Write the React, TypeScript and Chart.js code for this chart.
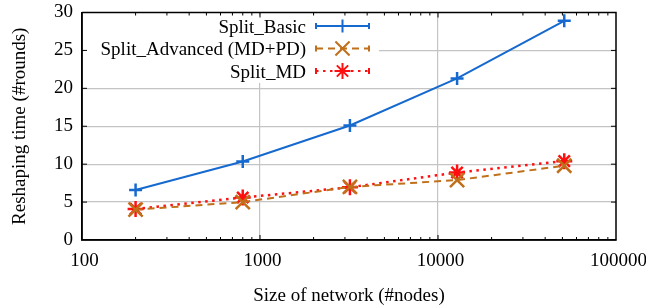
import React, { useEffect, useRef } from "react";
import { Chart, registerables } from "chart.js";

Chart.register(...registerables);

const sizes = [200, 800, 3200, 12800, 51200];
const splitBasic = [6.6, 10.35, 15.1, 21.3, 28.9];
const splitAdvanced = [4.0, 5.0, 7.0, 7.9, 9.8];
const splitMD = [4.1, 5.6, 6.95, 8.9, 10.4];
const xTicks = [100, 1000, 10000, 100000];
const seriesLabels = ["Split_Basic", "Split_Advanced (MD+PD)", "Split_MD"];

const FONT = "'Liberation Serif', 'Times New Roman', serif";

const drawMarker = (ctx: CanvasRenderingContext2D, style: string, x: number, y: number, r: number) => {
  ctx.beginPath();
  if (style === "cross" || style === "star") {
    ctx.moveTo(x - r, y);
    ctx.lineTo(x + r, y);
    ctx.moveTo(x, y - r);
    ctx.lineTo(x, y + r);
  }
  if (style === "crossRot" || style === "star") {
    const d = r * Math.SQRT1_2;
    ctx.moveTo(x - d, y - d);
    ctx.lineTo(x + d, y + d);
    ctx.moveTo(x - d, y + d);
    ctx.lineTo(x + d, y - d);
  }
  ctx.stroke();
};

const framePlugin = {
  id: "frame",
  beforeDatasetsDraw(chart: any) {
    const ctx = chart.ctx;
    const a = chart.chartArea;
    ctx.save();
    ctx.fillStyle = "#fff";
    ctx.fillRect(a.left + 2, a.top + 3, 379 - a.left - 2, 83 - a.top - 3);
    ctx.restore();
  },
  afterDatasetsDraw(chart: any) {
    const ctx = chart.ctx;
    const a = chart.chartArea;
    const xs = chart.scales.x;
    const ys = chart.scales.y;
    ctx.save();
    ctx.strokeStyle = "#000";
    ctx.lineWidth = 1.5;
    ctx.setLineDash([]);
    ctx.beginPath();
    ctx.moveTo(a.left, a.top);
    ctx.lineTo(a.right, a.top);
    ctx.lineTo(a.right, a.bottom);
    ctx.lineTo(a.left, a.bottom);
    ctx.lineTo(a.left, a.top);
    ctx.stroke();
    ctx.lineWidth = 1;
    ctx.beginPath();
    for (let v = 5; v < 30; v += 5) {
      const py = ys.getPixelForValue(v);
      ctx.moveTo(a.left, py);
      ctx.lineTo(a.left + 5, py);
      ctx.moveTo(a.right, py);
      ctx.lineTo(a.right - 5, py);
    }
    for (let e = 100; e < 100000; e *= 10) {
      for (let m = 1; m < 10; m++) {
        const v = e * m;
        if (v <= 100) continue;
        const px = xs.getPixelForValue(v);
        const len = m === 1 ? 5 : 3;
        ctx.moveTo(px, a.bottom);
        ctx.lineTo(px, a.bottom - len);
        ctx.moveTo(px, a.top);
        ctx.lineTo(px, a.top + len);
      }
    }
    ctx.stroke();

    ctx.font = "19px " + FONT;
    ctx.fillStyle = "#000";
    ctx.textAlign = "right";
    ctx.textBaseline = "alphabetic";
    const rows = [26, 48.5, 71];
    chart.data.datasets.forEach((ds: any, i: number) => {
      const ry = rows[i];
      ctx.fillText(ds.label, 306, ry + 6.5);
      ctx.strokeStyle = ds.borderColor;
      ctx.lineWidth = 2;
      ctx.setLineDash(ds.borderDash || []);
      ctx.beginPath();
      ctx.moveTo(316, ry);
      ctx.lineTo(369, ry);
      ctx.stroke();
      ctx.setLineDash([]);
      ctx.beginPath();
      ctx.moveTo(316, ry - 3);
      ctx.lineTo(316, ry + 3);
      ctx.moveTo(369, ry - 3);
      ctx.lineTo(369, ry + 3);
      ctx.stroke();
      drawMarker(ctx, ds.pointStyle, 342.5, ry, ds.pointRadius);
    });
    ctx.restore();
  },
  afterDraw(chart: any) {
    const ctx = chart.ctx;
    ctx.save();
    ctx.fillStyle = "#fff";
    ctx.fillRect(646, 244, 20, 30);
    ctx.restore();
  },
};

export default function App() {
  const ref = useRef<HTMLCanvasElement>(null);
  useEffect(() => {
    if (!ref.current) return;
    const mk = (vals: number[]) => sizes.map((x, i) => ({ x, y: vals[i] }));
    const chart = new Chart(ref.current, {
      type: "line",
      data: {
        datasets: [
          {
            label: seriesLabels[0],
            data: mk(splitBasic),
            borderColor: "#1569cf",
            backgroundColor: "#1569cf",
            borderWidth: 2,
            pointStyle: "cross",
            pointRadius: 6.5,
            pointBorderWidth: 2.5,
            tension: 0,
          },
          {
            label: seriesLabels[1],
            data: mk(splitAdvanced),
            borderColor: "#c0701a",
            backgroundColor: "#c0701a",
            borderWidth: 2,
            borderDash: [7, 5],
            pointStyle: "crossRot",
            pointRadius: 10,
            pointBorderWidth: 2.5,
            tension: 0,
          },
          {
            label: seriesLabels[2],
            data: mk(splitMD),
            borderColor: "#ff1010",
            backgroundColor: "#ff1010",
            borderWidth: 2.5,
            borderDash: [2.5, 4.5],
            pointStyle: "star",
            pointRadius: 8,
            pointBorderWidth: 2.5,
            tension: 0,
          },
        ] as any,
      },
      options: {
        responsive: false,
        animation: false,
        devicePixelRatio: 1,
        layout: { padding: { left: 0, top: 10, right: 43, bottom: 0 } },
        plugins: { legend: { display: false }, tooltip: { enabled: false } },
        scales: {
          x: {
            type: "logarithmic",
            min: 100,
            max: 100000,
            afterBuildTicks: (s: any) => {
              s.ticks = xTicks.map((v) => ({ value: v }));
            },
            afterFit: (s: any) => {
              s.height = 67;
              s.paddingLeft = 0;
              s.paddingRight = 0;
            },
            ticks: {
              callback: (v: any) => String(v),
              color: "#000",
              font: { family: FONT, size: 19 },
              padding: 10,
              labelOffset: 2.5,
              maxRotation: 0,
              autoSkip: false,
            },
            grid: {
              drawTicks: false,
              color: (c: any) =>
                c.tick && (c.tick.value === 100 || c.tick.value === 100000) ? "rgba(0,0,0,0)" : "#c4c4c4",
              lineWidth: 1.2,
            },
            border: { color: "#000", width: 1.5 },
            title: {
              display: true,
              text: "Size of network (#nodes)",
              color: "#000",
              font: { family: FONT, size: 19 },
              padding: { top: 2.6, bottom: 0 },
            },
          },
          y: {
            min: 0,
            max: 30,
            afterFit: (s: any) => {
              s.width = 82;
              s.paddingTop = 0;
              s.paddingBottom = 0;
            },
            ticks: {
              stepSize: 5,
              color: "#000",
              font: { family: FONT, size: 19 },
              padding: 9,
            },
            grid: {
              drawTicks: false,
              color: (c: any) =>
                c.tick && (c.tick.value === 0 || c.tick.value === 30) ? "rgba(0,0,0,0)" : "#c4c4c4",
              lineWidth: 1.2,
            },
            border: { color: "#000", width: 1.5 },
            title: {
              display: true,
              text: "Reshaping time (#rounds)",
              color: "#000",
              font: { family: FONT, size: 19 },
              padding: { top: 8.6, bottom: 0 },
            },
          },
        },
      } as any,
      plugins: [framePlugin],
    });
    return () => chart.destroy();
  }, []);
  return (
    <div style={{ position: "absolute", left: 0, top: 0, width: 659, height: 307, background: "#fff" }}>
      <canvas ref={ref} width={659} height={307} />
    </div>
  );
}
